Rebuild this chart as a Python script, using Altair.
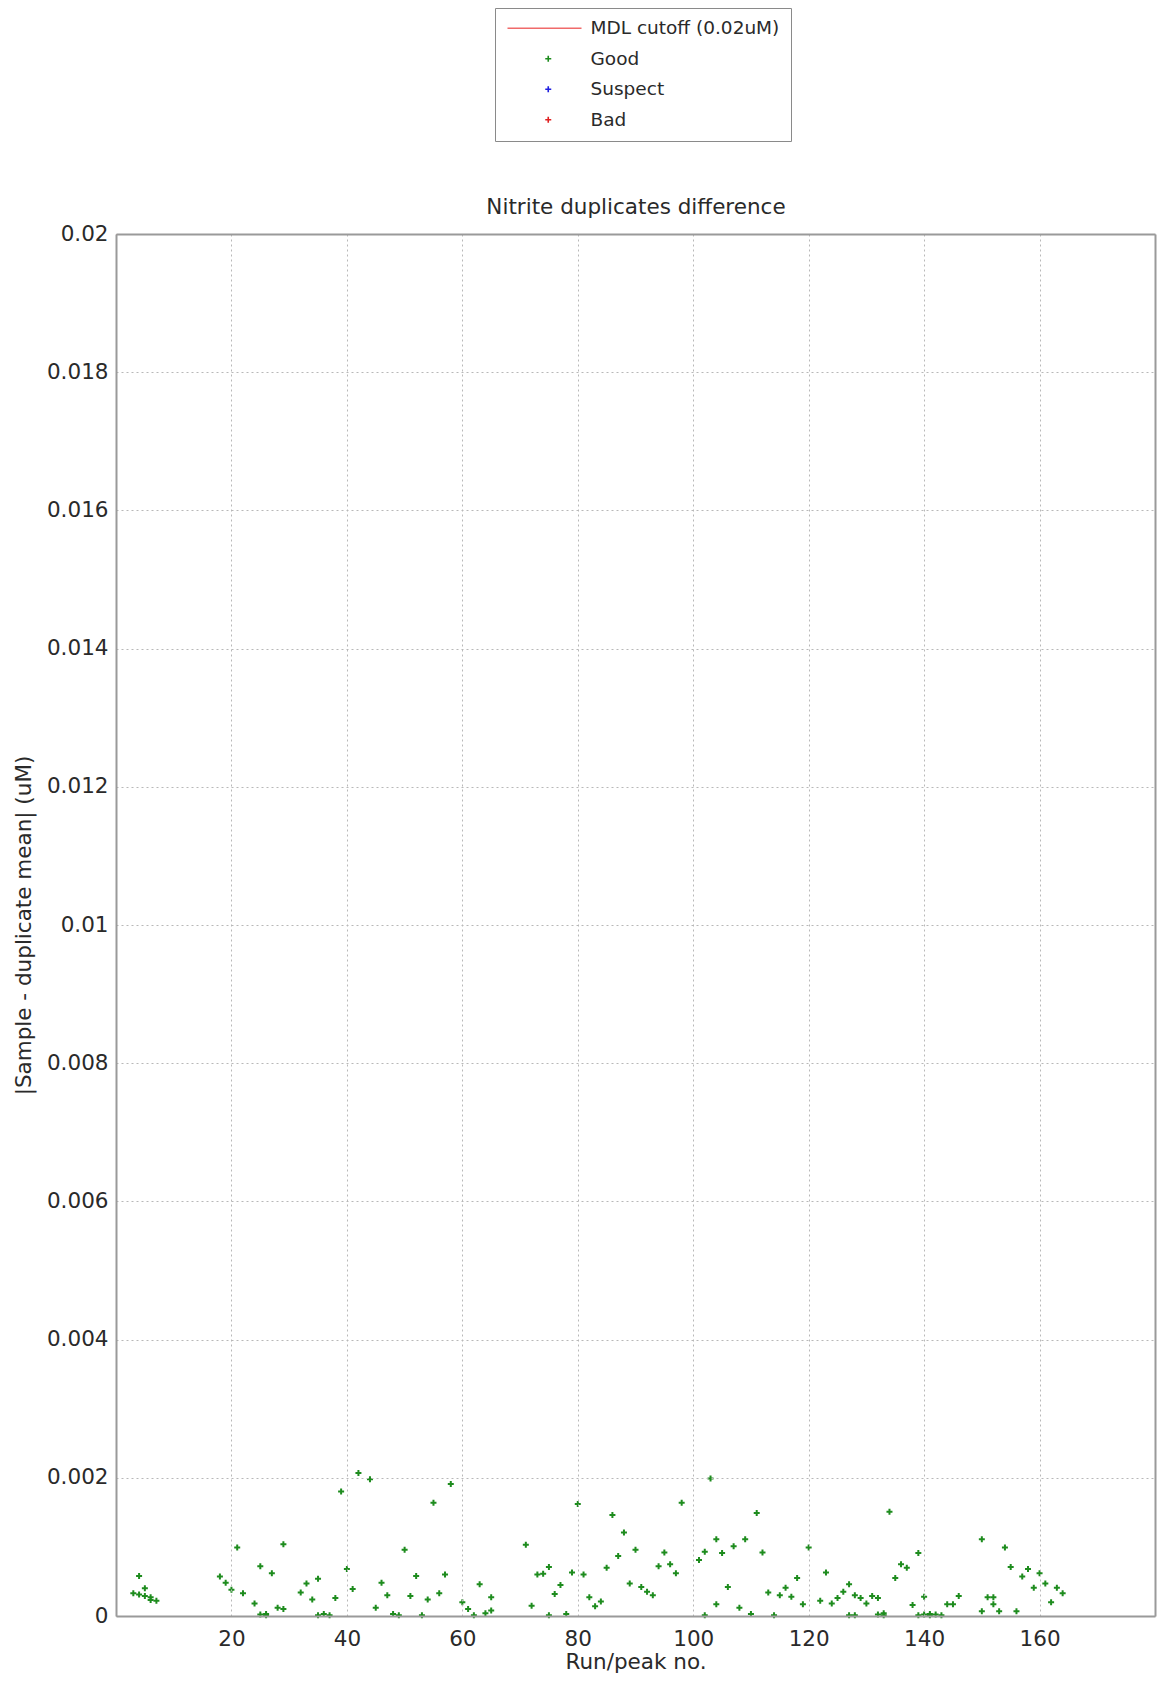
import altair as alt
import pandas as pd

run_no = [3, 4, 4, 5, 5, 6, 6, 7,
          18, 19, 20, 21, 22, 24, 25, 25, 26, 26, 27, 28, 29, 29,
          32, 33, 34, 35, 35, 36, 37, 38, 39, 40, 41, 42, 44, 45, 46, 47, 48, 49,
          50, 51, 52, 53, 54, 55, 56, 57, 58, 60, 61, 62, 63, 64, 65, 65,
          71, 72, 73, 74, 75, 75, 76, 77, 78, 79, 80, 81, 82, 83, 84, 85, 86, 87, 88, 89,
          90, 91, 92, 93, 94, 95, 96, 97, 98,
          101, 102, 102, 103, 104, 104, 105, 106, 107, 108, 109, 110, 111, 112, 113, 114,
          115, 116, 117, 118, 119, 120, 122, 123, 124, 125, 126, 127, 127, 128, 128, 129,
          130, 131, 132, 132, 133, 133, 134, 135, 136, 137, 138, 139, 139, 140, 140, 141,
          141, 142, 143, 144, 145, 146,
          150, 150, 151, 152, 152, 153, 154, 155, 156, 157, 158, 159, 160, 161, 162, 163, 164]
diff_um = [0.00033, 0.00058, 0.00031, 0.00040, 0.00029, 0.00027, 0.00023, 0.00022,
           0.00057, 0.00048, 0.00038, 0.00099, 0.00033, 0.00018, 0.00072, 0.00002, 0.00001, 0.00003, 0.00062, 0.00012, 0.00104, 0.00010,
           0.00034, 0.00047, 0.00024, 0.00054, 0.00001, 0.00003, 0.00001, 0.00026, 0.00180, 0.00068, 0.00039, 0.00207, 0.00198, 0.00012, 0.00048, 0.00030, 0.00003, 0.00001,
           0.00096, 0.00029, 0.00058, 0.00001, 0.00024, 0.00164, 0.00033, 0.00060, 0.00191, 0.00020, 0.00010, 0.00001, 0.00046, 0.00004, 0.00027, 0.00008,
           0.00103, 0.00015, 0.00060, 0.00061, 0.00071, 0.00001, 0.00032, 0.00045, 0.00003, 0.00063, 0.00162, 0.00060, 0.00027, 0.00014, 0.00021, 0.00070, 0.00146, 0.00087, 0.00121, 0.00047,
           0.00096, 0.00042, 0.00035, 0.00030, 0.00072, 0.00092, 0.00075, 0.00062, 0.00164,
           0.00081, 0.00001, 0.00093, 0.00199, 0.00111, 0.00017, 0.00091, 0.00042, 0.00101, 0.00012, 0.00111, 0.00003, 0.00149, 0.00092, 0.00034, 0.00001,
           0.00030, 0.00041, 0.00028, 0.00055, 0.00017, 0.00099, 0.00022, 0.00063, 0.00018, 0.00026, 0.00035, 0.00046, 0.00001, 0.00001, 0.00030, 0.00026,
           0.00018, 0.00029, 0.00026, 0.00002, 0.00001, 0.00004, 0.00151, 0.00055, 0.00075, 0.00070, 0.00016, 0.00091, 0.00001, 0.00028, 0.00002, 0.00003,
           0.00001, 0.00002, 0.00001, 0.00017, 0.00017, 0.00029,
           0.00111, 0.00007, 0.00027, 0.00027, 0.00017, 0.00007, 0.00099, 0.00071, 0.00007, 0.00057, 0.00068, 0.00041, 0.00062, 0.00047, 0.00020, 0.00041, 0.00033]
flags = ["Good"] * len(run_no)

legend_names = ["MDL cutoff (0.02uM)", "Good", "Suspect", "Bad"]
legend_colors = ["#f06a6a", "#1e8c1e", "#1f1fe0", "#e02020"]
mdl_value = [0.02]

x_ticks = [20, 40, 60, 80, 100, 120, 140, 160]
y_ticks = [0, 0.002, 0.004, 0.006, 0.008, 0.01, 0.012, 0.014, 0.016, 0.018, 0.02]

FONT = "DejaVu Sans"
TXT = "#2a2a2a"
FS = 21.5
W, H = 1039, 1382
TOP = 226

df = pd.DataFrame({"run": run_no, "diff": diff_um, "flag": flags})
df_mdl = pd.DataFrame({"y": mdl_value, "flag": [legend_names[0]]})

# symbol size 25 -> unit path scaled by 2.5 px
SYM = 25
LINE_PATH = "M-16.3,0L13.3,0"
PLUS_PATH = "M-1.2,0L1.2,0M0,-1.2L0,1.2"

color_scale = alt.Scale(domain=legend_names, range=legend_colors)
shape_scale = alt.Scale(domain=legend_names, range=[LINE_PATH, PLUS_PATH, PLUS_PATH, PLUS_PATH])

x_scale = alt.Scale(domain=[0, 180], nice=False, zero=False)
y_scale = alt.Scale(domain=[0, 0.02], nice=False)

legend = alt.Legend(
    title=None, orient="none", legendX=379, legendY=-TOP,
    padding=11, strokeColor="#8a8a8a", fillColor="white",
    labelFont=FONT, labelFontSize=18.5, labelColor=TXT, labelOffset=33, labelLimit=400,
    symbolSize=SYM, symbolStrokeWidth=1.6, symbolOffset=33, rowPadding=11.5,
)

x_axis = alt.Axis(
    values=x_ticks, title="Run/peak no.", labelFont=FONT, labelFontSize=FS, labelColor=TXT,
    titleFont=FONT, titleFontSize=FS, titleFontWeight="normal", titleColor=TXT,
    labelPadding=12, titlePadding=2, tickSize=0,
    grid=True, gridColor="#b8b8b8", gridDash=[2, 3], gridWidth=1,
    domainColor="#9a9a9a", domainWidth=2, zindex=1,
)
y_axis = alt.Axis(
    values=y_ticks, format="~g", title="|Sample - duplicate mean| (uM)",
    labelFont=FONT, labelFontSize=FS, labelColor=TXT,
    titleFont=FONT, titleFontSize=FS, titleFontWeight="normal", titleColor=TXT,
    labelPadding=8, titlePadding=11, tickSize=0,
    grid=True, gridColor="#b8b8b8", gridDash=[2, 3], gridWidth=1,
    domainColor="#9a9a9a", domainWidth=2, zindex=1,
)

points = alt.Chart(df).mark_point(filled=False, size=SYM, strokeWidth=2, opacity=1).encode(
    x=alt.X("run:Q", scale=x_scale, axis=x_axis),
    y=alt.Y("diff:Q", scale=y_scale, axis=y_axis),
    color=alt.Color("flag:N", scale=color_scale, legend=legend),
    shape=alt.Shape("flag:N", scale=shape_scale, legend=legend),
)

# top axis carries the chart title
frame_x = alt.Axis(orient="top", labels=False, ticks=False, grid=False,
                   title="Nitrite duplicates difference",
                   titleFont=FONT, titleFontSize=FS, titleFontWeight="normal", titleColor=TXT,
                   titlePadding=16,
                   domainColor="#9a9a9a", domainWidth=2, zindex=1)
frame_y = alt.Axis(orient="right", labels=False, ticks=False, grid=False, title=None,
                   domainColor="#9a9a9a", domainWidth=2, zindex=1)

mdl = alt.Chart(df_mdl).mark_rule(strokeWidth=1, clip=True).encode(
    y=alt.Y("y:Q", scale=y_scale, axis=frame_y),
    x=alt.value(0),
    x2=alt.value(W),
    color=alt.Color("flag:N", scale=color_scale, legend=None),
)

frame_top = alt.Chart(df_mdl).mark_point(opacity=0).encode(
    x=alt.X("xv:Q", scale=x_scale, axis=frame_x),
).transform_calculate(xv="0")

chart = alt.layer(points, mdl, frame_top).resolve_axis(x="independent", y="independent").properties(
    width=W, height=H,
    padding={"left": 108, "top": TOP, "right": 2, "bottom": 58},
    autosize=alt.AutoSizeParams(type="none"),
).configure_view(stroke=None).configure(background="white")

chart.save("out.html", embed_options={"renderer": "svg", "actions": False})
